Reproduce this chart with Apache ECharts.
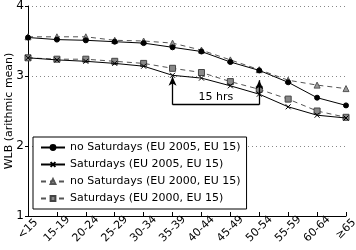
<!DOCTYPE html>
<html>
<head>
<meta charset="utf-8">
<script src="https://cdn.jsdelivr.net/npm/echarts@6/dist/echarts.min.js"></script>
<style>
  html, body { margin: 0; padding: 0; background: #fff; }
  #chart { width: 356px; height: 250px; }
</style>
</head>
<body>
<div id="chart"></div>
<script>
// age groups
const ageGroups = ["<15", "15-19", "20-24", "25-29", "30-34", "35-39", "40-44", "45-49", "50-54", "55-59", "60-64", "≥65"];

// WLB means
const noSat2005 = [3.55, 3.52, 3.51, 3.49, 3.47, 3.41, 3.35, 3.20, 3.08, 2.91, 2.69, 2.58];
const sat2005   = [3.26, 3.23, 3.21, 3.18, 3.14, 3.01, 2.97, 2.86, 2.74, 2.56, 2.44, 2.40];
const noSat2000 = [3.56, 3.56, 3.56, 3.51, 3.50, 3.47, 3.37, 3.23, 3.09, 2.94, 2.87, 2.82];
const sat2000   = [3.26, 3.24, 3.24, 3.21, 3.18, 3.11, 3.05, 2.92, 2.81, 2.67, 2.50, 2.41];

const yTicks = [1, 2, 3, 4];
const yTitle = "WLB (arithmic mean)";

// "15 hrs" bracket between 35-39 and 50-54
const bracketFrom = 5, bracketTo = 8, bracketBase = 2.59;
const bracketTips = [2.99, 2.94];

const font = "DejaVu Sans";
const crossPath = "path://M0,0L10,10M10,0L0,10";

const chart = echarts.init(document.getElementById("chart"));

const lineSeries = (name, data, opts) => ({
    name,
    type: "line",
    data,
    symbolSize: opts.size,
    symbol: opts.symbol,
    lineStyle: { color: opts.lineColor, width: 1, type: opts.dash ? [5, 4] : "solid" },
    itemStyle: { color: opts.fill, borderColor: opts.border, borderWidth: 1 },
    z: opts.z || 2,
    animation: false,
});

const series = [
    lineSeries("no Saturdays (EU 2005, EU 15)", noSat2005, { symbol: "circle", size: 5, lineColor: "#000", fill: "#000", border: "#000", z: 4 }),
    lineSeries("Saturdays (EU 2005, EU 15)", sat2005, { symbol: crossPath, size: 5, lineColor: "#000", fill: "none", border: "#000", z: 4 }),
    lineSeries("no Saturdays (EU 2000, EU 15)", noSat2000, { symbol: "triangle", size: 6, lineColor: "#555", fill: "#999", border: "#555", dash: true }),
    lineSeries("Saturdays (EU 2000, EU 15)", sat2000, { symbol: "rect", size: 6, lineColor: "#555", fill: "#888", border: "#444", dash: true }),
];

// bracket annotation drawn in data space
series.push({
    type: "line",
    data: [],
    silent: true,
    animation: false,
    markLine: {
        silent: true,
        animation: false,
        symbolSize: [6, 9],
        lineStyle: { color: "#000", width: 1.3, type: "solid" },
        label: { show: false },
        data: [
            [{ coord: [bracketFrom, bracketBase], symbol: "none" }, { coord: [bracketFrom, bracketTips[0]], symbol: "arrow" }],
            [{ coord: [bracketTo, bracketBase], symbol: "none" }, { coord: [bracketTo, bracketTips[1]], symbol: "arrow" }],
            [{ coord: [bracketFrom, bracketBase], symbol: "none",
               label: { show: true, formatter: "15 hrs", position: "middle", distance: 2, color: "#000", fontFamily: font, fontSize: 11 } },
             { coord: [bracketTo, bracketBase], symbol: "none" }],
        ],
    },
});

chart.setOption({
    backgroundColor: "#fff",
    textStyle: { fontFamily: font },
    grid: { left: 28, right: 10, top: 6, bottom: 34, outerBoundsMode: "none", containLabel: false },
    // y axis title
    graphic: [{
        type: "text",
        x: 9,
        y: 111,
        rotation: Math.PI / 2,
        style: { text: yTitle, fill: "#000", font: "11px " + font, align: "center", verticalAlign: "middle" },
    }],
    legend: {
        orient: "vertical",
        left: 33,
        top: 137,
        padding: [5, 6, 5, 7],
        itemGap: 6,
        itemWidth: 24,
        itemHeight: 6,
        borderColor: "#000",
        borderWidth: 1,
        backgroundColor: "#fff",
        textStyle: { fontFamily: font, fontSize: 11, color: "#000" },
        data: series.slice(0, 4).map((s) => s.name),
    },
    xAxis: {
        type: "category",
        data: ageGroups,
        boundaryGap: false,
        axisLine: { lineStyle: { color: "#000", width: 1 } },
        axisTick: { inside: true, length: 4, alignWithLabel: true, lineStyle: { color: "#000" } },
        axisLabel: { rotate: 45, align: "center", verticalAlign: "middle", fontSize: 11, color: "#000", fontFamily: font, margin: 13, interval: 0 },
        splitLine: { show: false },
    },
    yAxis: {
        type: "value",
        min: yTicks[0],
        max: yTicks[yTicks.length - 1],
        interval: 1,
        axisLine: { show: true, lineStyle: { color: "#000", width: 1 } },
        axisTick: { show: true, length: 3, lineStyle: { color: "#000" } },
        axisLabel: { fontSize: 12, color: "#000", fontFamily: font, margin: 4 },
        splitLine: { show: true, lineStyle: { color: "#888", type: [1, 3], width: 1 } },
    },
    series,
});
</script>
</body>
</html>
